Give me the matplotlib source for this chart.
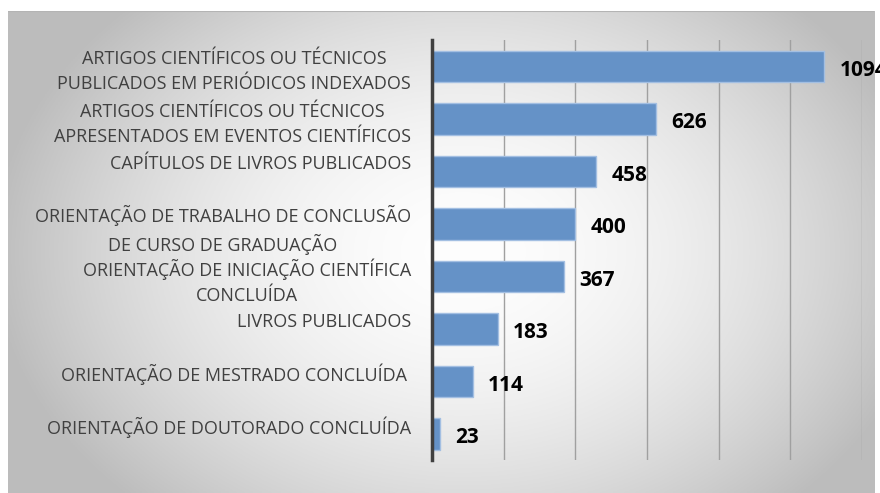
import numpy as np
import matplotlib
matplotlib.use("Agg")
import matplotlib.pyplot as plt

categories = [
    "ARTIGOS CIENTÍFICOS OU TÉCNICOS\nPUBLICADOS EM PERIÓDICOS INDEXADOS",
    "ARTIGOS CIENTÍFICOS OU TÉCNICOS\nAPRESENTADOS EM EVENTOS CIENTÍFICOS",
    "CAPÍTULOS DE LIVROS PUBLICADOS\n",
    "ORIENTAÇÃO DE TRABALHO DE CONCLUSÃO\nDE CURSO DE GRADUAÇÃO",
    "ORIENTAÇÃO DE INICIAÇÃO CIENTÍFICA\nCONCLUÍDA",
    "LIVROS PUBLICADOS\n",
    "ORIENTAÇÃO DE MESTRADO CONCLUÍDA \n",
    "ORIENTAÇÃO DE DOUTORADO CONCLUÍDA\n",
]
values = [1094, 626, 458, 400, 367, 183, 114, 23]
x_ticks = [0, 200, 400, 600, 800, 1000, 1200]

W, H = 880, 493
fig = plt.figure(figsize=(W / 100, H / 100), dpi=100)
fig.patch.set_facecolor("white")

# background chart area with radial gradient
bg = fig.add_axes([8 / W, 0, 866 / W, (H - 11) / H])
bg.set_axis_off()
gx = np.linspace(-1, 1, 400)
gy = np.linspace(-1, 1, 250)
X, Y = np.meshgrid(gx, gy)
cx, cy = 0.05, 0.0
R = np.sqrt(((X - cx) / 1.05) ** 2 + ((Y - cy) / 1.4) ** 2)
R = np.clip(R / 1.0, 0, 1.2)
shade = 0.995 - 0.24 * R ** 1.8
shade = np.clip(shade, 0.74, 1)
img = np.dstack([shade, shade, shade])
bg.imshow(img, aspect="auto", extent=[0, 1, 0, 1], origin="lower")
bg.set_xlim(0, 1)
bg.set_ylim(0, 1)
bg.plot([0, 1], [1, 1], color="#b4b4b4", lw=1.5, transform=bg.transAxes)

ax = fig.add_axes([432 / W, (H - 460) / H, 430 / W, 420 / H])
ax.patch.set_alpha(0)
n = len(values)
ypos = np.arange(n)
ax.barh(ypos, values, height=0.6, color="#6592c7", edgecolor="#a3bfe2",
        linewidth=1.0, zorder=3)
ax.set_xlim(0, 1200)
ax.set_ylim(n - 0.5, -0.5)
ax.set_xticks(x_ticks)
ax.xaxis.grid(True, color="#a0a0a0", lw=1.0, zorder=0)
ax.tick_params(axis="x", length=0, labelbottom=False)
ax.set_yticks(ypos)
ax.set_yticklabels(categories, fontsize=13, color="#404040",
                   family="Open Sans", linespacing=1.5,
                   multialignment="center")
ax.tick_params(axis="y", length=0, pad=15)
for s in ["top", "right", "bottom"]:
    ax.spines[s].set_visible(False)
ax.spines["left"].set_color("#404040")
ax.spines["left"].set_linewidth(2.5)
ax.spines["left"].set_zorder(5)

for y, v in zip(ypos, values):
    ax.annotate(str(v), (v, y), xytext=(11, -3), textcoords="offset points",
                ha="left", va="center", fontsize=15, fontweight="bold",
                family="Open Sans", color="black", annotation_clip=False)

fig.savefig("out.png", dpi=100)
